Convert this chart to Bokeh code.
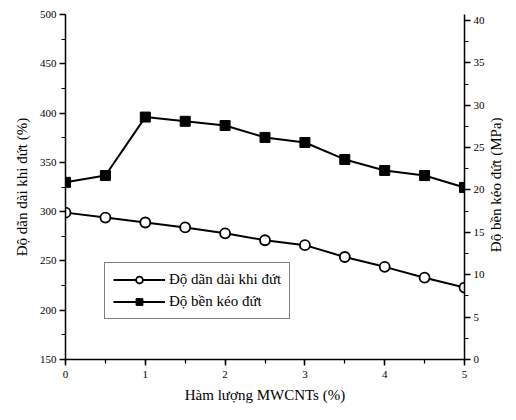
import math
from bokeh.plotting import figure
from bokeh.layouts import row
from bokeh.models import Range1d, LinearAxis, SingleIntervalTicker, Legend, LegendItem
from bokeh.core.properties import value
from bokeh.embed import file_html
from bokeh.resources import INLINE

# Data
mwcnt = [0, 0.5, 1, 1.5, 2, 2.5, 3, 3.5, 4, 4.5, 5]
elongation = [299, 294, 289, 284, 278, 271, 266, 254, 244, 233, 223]
tensile = [20.9, 21.7, 28.6, 28.1, 27.6, 26.2, 25.6, 23.6, 22.3, 21.7, 20.3]

x_label = "Hàm lượng MWCNTs (%)"
left_label = "Độ dãn dài khi đứt (%)"
right_label = "Độ bền kéo đứt (MPa)"
name_elong = "Độ dãn dài khi đứt"
name_tens = "Độ bền kéo đứt"

FONT = "Liberation Serif"

p = figure(frame_width=399, frame_height=345, output_backend="svg", toolbar_location=None,
           x_range=Range1d(0, 5), y_range=Range1d(150, 500),
           min_border_left=65, min_border_right=20, min_border_top=14, min_border_bottom=45)
p.outline_line_color = None
p.xgrid.visible = False
p.ygrid.visible = False
p.background_fill_color = "white"
p.border_fill_color = "white"

p.extra_y_ranges = {"r": Range1d(0, 40.7)}

def style_axis(ax, interval):
    ax.ticker = SingleIntervalTicker(interval=interval, num_minor_ticks=2)
    ax.major_tick_in = 0
    ax.major_tick_out = 6
    ax.minor_tick_in = 0
    ax.minor_tick_out = 4
    ax.axis_line_width = 1.5
    ax.major_tick_line_width = 1.5
    ax.minor_tick_line_width = 1.2
    ax.axis_line_color = "black"
    ax.major_tick_line_color = "black"
    ax.minor_tick_line_color = "black"
    ax.major_label_text_font = FONT
    ax.major_label_text_font_size = "11px"
    ax.major_label_text_color = "black"
    ax.major_label_standoff = 3
    ax.axis_label_text_font = FONT
    ax.axis_label_text_font_size = "15px"
    ax.axis_label_text_font_style = "normal"
    ax.axis_label_text_color = "black"

style_axis(p.xaxis[0], 1)
p.xaxis[0].axis_label = x_label
p.xaxis[0].major_label_standoff = 5
p.xaxis[0].axis_label_standoff = 6
style_axis(p.yaxis[0], 50)
p.yaxis[0].axis_label = left_label
p.yaxis[0].axis_label_standoff = 7

rax = LinearAxis(y_range_name="r")
style_axis(rax, 5)
p.add_layout(rax, "right")

# Elongation series (left axis)
l1 = p.line(mwcnt, elongation, line_color="black", line_width=2)
m1 = p.scatter(mwcnt, elongation, marker="circle", size=10, fill_color="white",
               line_color="black", line_width=1.8)

# Tensile strength series (right axis)
l2 = p.line(mwcnt, tensile, line_color="black", line_width=2, y_range_name="r")
m2 = p.scatter(mwcnt, tensile, marker="square", size=10, fill_color="black",
               line_color="black", y_range_name="r")

legend = Legend(items=[LegendItem(label=name_elong, renderers=[l1, m1]),
                       LegendItem(label=name_tens, renderers=[l2, m2])],
                location=(39, 40))
legend.label_text_font = FONT
legend.label_text_font_size = "15px"
legend.label_text_color = "black"
legend.border_line_color = "black"
legend.border_line_width = 1
legend.glyph_width = 52
legend.glyph_height = 17
legend.spacing = 5
legend.padding = 8
legend.margin = 0
legend.label_standoff = 4
legend.background_fill_alpha = 1
p.add_layout(legend, "center")

# narrow strip on the right carrying the right-axis title (reads bottom to top)
q = figure(width=16, height=404, output_backend="svg", toolbar_location=None,
           x_range=Range1d(0, 1), y_range=Range1d(0, 404),
           min_border=0, min_border_left=0, min_border_right=0,
           min_border_top=0, min_border_bottom=0)
q.axis.visible = False
q.grid.visible = False
q.outline_line_color = None
q.border_fill_color = "white"
q.background_fill_color = "white"
q.text(x=[0.5], y=[404 - 200], text=[right_label], angle=math.pi / 2,
       text_align="center", text_baseline="middle",
       text_font=value(FONT), text_font_size="15px", text_color="black")

layout = row(p, q, spacing=0)
open("out.html", "w").write(file_html(layout, INLINE))
